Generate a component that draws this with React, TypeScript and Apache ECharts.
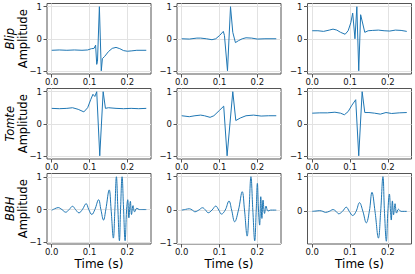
import React, { useEffect, useRef } from 'react';
import * as echarts from 'echarts';

const rowNames = ['Blip', 'Tomte', 'BBH'];
const xLabel = 'Time (s)';
const yLabel = 'Amplitude';
const xTicks = [0, 0.1, 0.2];
const yTicksFull = [-1, 0, 1];
const yTicksNoMin = [0, 1];
const xRange = [-0.0125, 0.2625];

const blip1: number[][] = [[0,-0.36],[0.02,-0.35],[0.04,-0.36],[0.06,-0.35],[0.08,-0.36],[0.095,-0.35],[0.105,-0.31],[0.112,-0.3],[0.116,-0.2],[0.119,-0.8],[0.121,-0.7],[0.126,1.0],[0.131,-1.0],[0.134,-0.62],[0.14,-0.55],[0.15,-0.4],[0.16,-0.3],[0.17,-0.27],[0.18,-0.31],[0.19,-0.37],[0.2,-0.39],[0.21,-0.38],[0.225,-0.36],[0.25,-0.36]];
const blip2: number[][] = [[0,0.0],[0.02,-0.01],[0.04,0.02],[0.05,0.02],[0.065,0.0],[0.08,-0.03],[0.09,0.0],[0.1,0.1],[0.11,0.23],[0.113,0.1],[0.121,-1.0],[0.129,1.0],[0.135,0.2],[0.142,-0.12],[0.15,-0.06],[0.16,0.0],[0.17,0.03],[0.185,0.02],[0.2,-0.01],[0.22,0.0],[0.25,0.0]];
const blip3: number[][] = [[0,0.25],[0.015,0.25],[0.03,0.23],[0.045,0.27],[0.055,0.3],[0.065,0.27],[0.075,0.2],[0.087,0.14],[0.095,0.25],[0.102,0.5],[0.107,0.8],[0.113,0.0],[0.118,1.0],[0.123,-1.0],[0.128,0.75],[0.139,0.2],[0.148,0.25],[0.16,0.26],[0.175,0.27],[0.19,0.25],[0.205,0.24],[0.22,0.27],[0.235,0.26],[0.25,0.23]];
const tomte1: number[][] = [[0,0.48],[0.02,0.47],[0.04,0.48],[0.055,0.5],[0.07,0.45],[0.085,0.37],[0.095,0.5],[0.103,0.75],[0.109,0.92],[0.114,0.85],[0.119,1.0],[0.127,-1.0],[0.136,1.0],[0.142,0.48],[0.15,0.5],[0.17,0.48],[0.19,0.47],[0.21,0.48],[0.23,0.47],[0.25,0.48]];
const tomte2: number[][] = [[0,0.25],[0.02,0.22],[0.035,0.25],[0.05,0.27],[0.06,0.25],[0.075,0.2],[0.085,0.25],[0.1,0.42],[0.111,0.55],[0.12,-1.0],[0.135,1.0],[0.143,0.1],[0.155,0.18],[0.17,0.25],[0.19,0.27],[0.21,0.24],[0.23,0.25],[0.25,0.25]];
const tomte3: number[][] = [[0,0.33],[0.02,0.34],[0.04,0.34],[0.06,0.36],[0.075,0.33],[0.085,0.28],[0.095,0.38],[0.105,0.58],[0.115,0.75],[0.123,-1.0],[0.132,1.0],[0.139,0.35],[0.15,0.35],[0.165,0.33],[0.18,0.3],[0.195,0.35],[0.21,0.32],[0.23,0.34],[0.25,0.35]];
const bbh1: number[][] = [[0,-0.02],[0.007,0.02],[0.017,0.06],[0.027,0.0],[0.037,-0.08],[0.046,0.0],[0.055,0.1],[0.063,0.0],[0.072,-0.1],[0.081,0.0],[0.091,0.18],[0.098,0.0],[0.106,-0.15],[0.114,0.0],[0.124,0.3],[0.13,0.0],[0.137,-0.32],[0.143,0.0],[0.152,0.6],[0.157,0.0],[0.163,-0.87],[0.167,0.0],[0.171,1.0],[0.175,0.0],[0.179,-0.95],[0.182,0.0],[0.186,1.0],[0.19,0.0],[0.194,-0.95],[0.198,0.0],[0.201,0.3],[0.204,-0.25],[0.208,0.25],[0.211,-0.15],[0.215,0.12],[0.219,-0.07],[0.225,0.04],[0.232,0.0],[0.25,0.0]];
const bbh2: number[][] = [[0,0.0],[0.01,0.02],[0.02,0.04],[0.028,0.0],[0.035,-0.05],[0.045,0.0],[0.055,0.07],[0.063,0.0],[0.07,-0.08],[0.08,0.0],[0.09,0.12],[0.098,0.0],[0.105,-0.12],[0.115,0.0],[0.125,0.27],[0.132,0.0],[0.14,-0.35],[0.15,0.0],[0.16,0.55],[0.166,0.0],[0.173,-0.78],[0.178,0.0],[0.183,1.0],[0.188,0.0],[0.193,-0.92],[0.197,0.0],[0.2,0.8],[0.203,0.0],[0.206,-0.45],[0.209,0.4],[0.212,-0.25],[0.215,0.3],[0.219,-0.1],[0.223,0.12],[0.228,-0.03],[0.235,0.0],[0.25,0.0]];
const bbh3: number[][] = [[0,0.0],[0.01,0.01],[0.02,0.02],[0.028,0.0],[0.035,-0.03],[0.045,0.0],[0.055,0.05],[0.063,0.0],[0.07,-0.07],[0.08,0.0],[0.09,0.12],[0.098,0.0],[0.107,-0.12],[0.116,0.0],[0.125,0.25],[0.134,0.0],[0.143,-0.33],[0.151,0.0],[0.158,0.55],[0.166,0.0],[0.175,-0.77],[0.181,0.0],[0.187,1.0],[0.191,0.0],[0.196,-0.86],[0.2,0.0],[0.204,0.5],[0.207,0.0],[0.209,-0.25],[0.212,0.3],[0.215,-0.1],[0.219,0.22],[0.223,-0.05],[0.228,0.06],[0.235,0.0],[0.25,0.0]];

const plotData = [blip1, blip2, blip3, tomte1, tomte2, tomte3, bbh1, bbh2, bbh3];
const yMins = [-1.1, -1.1, -1.1, -1.1, -1.1, -1.1, -1.05, -1.016, -0.94];
const yMaxs = [1.1, 1.1, 1.1, 1.1, 1.1, 1.1, 1.1, 1.096, 1.09];
const yTickSets = [yTicksFull, yTicksFull, yTicksFull, yTicksFull, yTicksFull, yTicksFull, yTicksFull, yTicksFull, yTicksNoMin];
const smoothFlags = [false, false, false, false, false, false, true, true, true];

export default function App() {
  const ref = useRef<HTMLDivElement>(null);
  useEffect(() => {
    const chart = echarts.init(ref.current!, null, { renderer: 'svg' });
    const colLeft = [47, 177, 307.5];
    const rowTop = [3.5, 88.5, 173.5];
    const W = 104;
    const H = 70.5;
    const frame = '#555555';
    const gridCol = '#e2e2e2';
    const font = 'DejaVu Sans';
    const grids: any[] = [];
    const xAxes: any[] = [];
    const yAxes: any[] = [];
    const series: any[] = [];
    const graphics: any[] = [];
    for (let r = 0; r < 3; r++) {
      for (let c = 0; c < 3; c++) {
        const i = r * 3 + c;
        grids.push({ left: colLeft[c], top: rowTop[r], width: W, height: H, show: true, borderColor: frame, borderWidth: 1, backgroundColor: 'transparent' });
        xAxes.push({
          type: 'value', gridIndex: i, min: xRange[0], max: xRange[1],
          axisLine: { show: false, onZero: false },
          axisTick: { show: true, length: 3.5, lineStyle: { color: frame }, customValues: xTicks },
          axisLabel: { customValues: xTicks, margin: 3, fontSize: 8.5, fontFamily: font, color: '#111', formatter: (v: number) => v.toFixed(1) },
          splitLine: { show: true, lineStyle: { color: gridCol, width: 1 } },
        });
        yAxes.push({
          type: 'value', gridIndex: i, min: yMins[i], max: yMaxs[i],
          axisLine: { show: false, onZero: false },
          axisTick: { show: true, length: 3.5, lineStyle: { color: frame }, customValues: yTickSets[i] },
          axisLabel: { customValues: yTickSets[i], margin: 5, fontSize: 8.5, fontFamily: font, color: '#111', formatter: (v: number) => String(Math.round(v)).replace('-', '\u2212') },
          splitLine: { show: true, lineStyle: { color: gridCol, width: 1 } },
        });
        series.push({
          type: 'line', xAxisIndex: i, yAxisIndex: i, data: plotData[i], showSymbol: false, symbol: 'none',
          smooth: smoothFlags[i] ? 0.4 : false,
          lineStyle: { color: '#1f77b4', width: 1 }, silent: true,
        });
      }
      const cy = rowTop[r] + H / 2;
      graphics.push({ type: 'text', x: 10, y: cy, rotation: Math.PI / 2, style: { text: rowNames[r], font: `italic 11.5px "${font}"`, fill: '#000', align: 'center', verticalAlign: 'middle' } });
      graphics.push({ type: 'text', x: 22.5, y: cy, rotation: Math.PI / 2, style: { text: yLabel, font: `11.5px "${font}"`, fill: '#000', align: 'center', verticalAlign: 'middle' } });
    }
    for (let c = 0; c < 3; c++) {
      graphics.push({ type: 'text', x: colLeft[c] + W / 2, y: 264, style: { text: xLabel, font: `12px "${font}"`, fill: '#000', align: 'center', verticalAlign: 'middle' } });
    }
    chart.setOption({
      animation: false,
      backgroundColor: '#ffffff',
      grid: grids,
      xAxis: xAxes,
      yAxis: yAxes,
      series,
      graphic: graphics,
    });
    return () => chart.dispose();
  }, []);
  return <div ref={ref} style={{ position: 'absolute', left: 0, top: 0, width: 415, height: 274 }} />;
}
